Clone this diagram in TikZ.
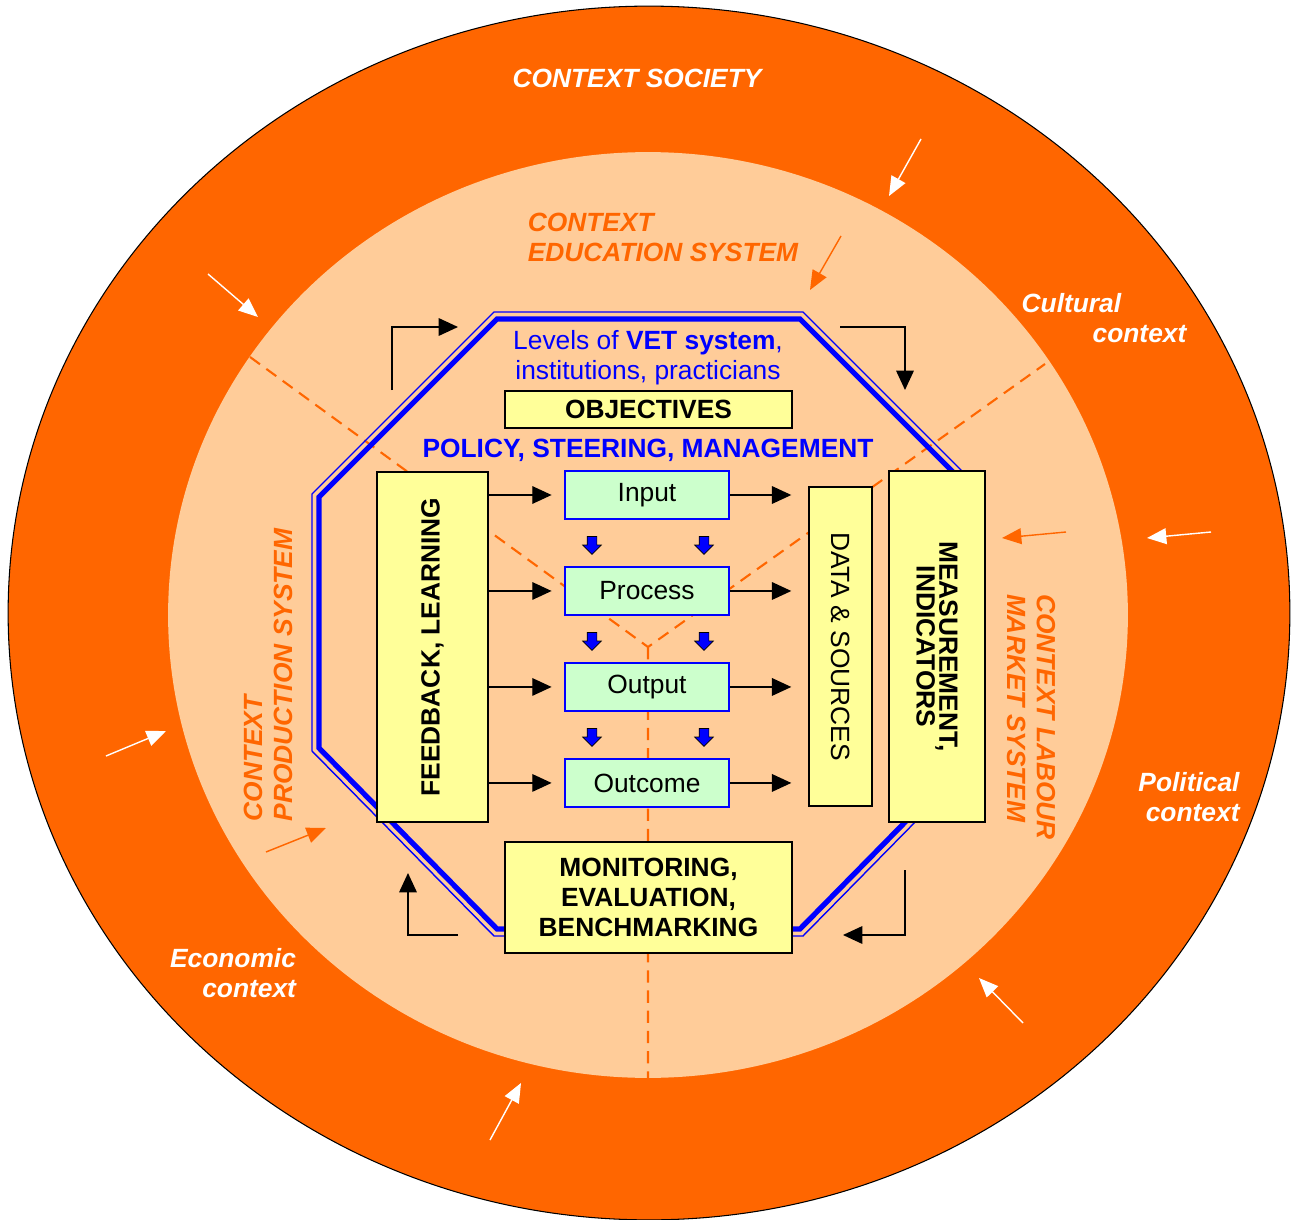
\documentclass[tikz,border=0pt]{standalone}
\usepackage{fontspec}
\setmainfont{Liberation Sans}
\usetikzlibrary{positioning, arrows.meta, shapes.arrows}

\definecolor{ringorange}{HTML}{FF6600}
\definecolor{peach}{HTML}{FFCC99}
\definecolor{paleyellow}{HTML}{FFFF99}
\definecolor{palegreen}{HTML}{CCFFCC}

\tikzset{
  ybox/.style={draw=black, fill=paleyellow, line width=0.8pt, inner sep=0pt},
  gbox/.style={draw=blue, fill=palegreen, line width=1.6pt, minimum width=3.28cm, minimum height=0.96cm, inner sep=0pt},
  dnarrow/.style={single arrow, draw=black, fill=blue, line width=0.4pt, rotate=-90,
    minimum height=0.36cm, inner sep=0.09cm, single arrow head extend=0.09cm},
  flow/.style={line width=0.8pt, -{Triangle[length=11pt,width=10pt]}},
  whitearr/.style={white, line width=0.8pt, -{Triangle[length=11pt,width=9pt]}},
  orangearr/.style={ringorange, line width=0.8pt, -{Triangle[length=11pt,width=9pt]}},
  sector/.style={ringorange, line width=1.2pt, dash pattern=on 7pt off 4.5pt},
  ctx/.style={ringorange, font=\fontsize{15}{17}\selectfont\bfseries\itshape},
  wctx/.style={white, font=\fontsize{15}{17}\selectfont\bfseries\itshape}
}

\begin{document}
\begin{tikzpicture}[x=0.02cm, y=-0.02cm, font=\fontsize{15}{17}\selectfont]
  \useasboundingbox (0,0) rectangle (1296,1220);

  % rings
  \fill[ringorange, draw=black, line width=0.6pt] (649,613) ellipse [x radius=12.82cm, y radius=12.14cm];
  \fill[peach] (648,615) ellipse [x radius=9.6cm, y radius=9.26cm];

  % sectors
  \coordinate (hub) at (648,647);
  \coordinate (s_left) at (250,357);
  \coordinate (s_right) at (1045,364);
  \coordinate (s_down) at (648,1078);
  \draw[sector] (s_left) -- (hub) -- (s_right) (hub) -- (s_down);

  % octagon
  \draw[blue, line width=0.8pt] (494,312) -- (803,312) -- (985,494) -- (985,751)
    -- (803,936) -- (494,936) -- (312,751) -- (312,494) -- cycle;
  \draw[blue, line width=3pt] (497,319) -- (800,319) -- (978,497) -- (978,748)
    -- (800,929) -- (497,929) -- (319,748) -- (319,497) -- cycle;

  % labels of the contexts
  \node[wctx] (lbl_soc) at (637,78) {CONTEXT SOCIETY};
  \node[ctx, align=left] (lbl_edu) at (663,237) {CONTEXT\\EDUCATION SYSTEM};
  \node[wctx, align=left] (lbl_cult) at (1104,318) {Cultural\\\hspace*{1.42cm}context};
  \node[wctx, align=right] (lbl_pol) at (1189,797) {Political\\context};
  \node[wctx, align=right] (lbl_eco) at (233,973) {Economic\\context};
  \node[ctx, align=left, rotate=90] (lbl_prod) at (268,675) {CONTEXT\\PRODUCTION SYSTEM};
  \node[ctx, align=left, rotate=-90] (lbl_lab) at (1031,717) {CONTEXT LABOUR\\MARKET SYSTEM};

  \node[blue, align=center] (lbl_vet) at (648,358) {Levels of \textbf{VET system},\\institutions, practicians};
  \node[blue, font=\fontsize{15}{17}\selectfont\bfseries] (lbl_pol_st) at (648,450) {POLICY, STEERING, MANAGEMENT};

  % boxes
  \node[ybox, minimum width=5.74cm, minimum height=0.74cm, font=\fontsize{15}{17}\selectfont\bfseries] (obj) at (648.5,409.5) {OBJECTIVES};
  \node[ybox, minimum width=5.74cm, minimum height=2.22cm, align=center, font=\fontsize{15}{17}\selectfont\bfseries] (mon) at (648.5,897.5) {MONITORING,\\EVALUATION,\\BENCHMARKING};
  \node[ybox, rotate=90, minimum width=7cm, minimum height=2.22cm, font=\fontsize{15}{17}\selectfont\bfseries] (fb) at (432.5,647) {FEEDBACK, LEARNING};
  \node[ybox, rotate=-90, minimum width=6.38cm, minimum height=1.26cm] (ds) at (840.5,646.5) {DATA \& SOURCES};
  \node[ybox, rotate=-90, minimum width=7.02cm, minimum height=1.92cm, align=center, font=\fontsize{15}{13}\selectfont\bfseries] (mi) at (937,646.5) {MEASUREMENT,\\INDICATORS};

  \node[gbox] (g_in) at (647,495) {Input};
  \node[gbox, below=1.92cm of g_in.center, anchor=center] (g_proc) {Process};
  \node[gbox, below=1.92cm of g_proc.center, anchor=center] (g_out) {Output};
  \node[gbox, below=1.92cm of g_out.center, anchor=center] (g_oc) {Outcome};

  % small block arrows
  \foreach \x in {592,704}
    \foreach \y in {543,639,735}
      \node[dnarrow] (dn_\x_\y) at (\x,\y) {};

  % flows
  \foreach \b in {in,proc,out,oc} {
    \draw[flow, shorten >=0.24cm] (fb.south |- g_\b.west) -- (g_\b.west);
    \draw[flow, shorten >=0.34cm] (g_\b.east) -- (g_\b.east -| ds.south);
  }

  % cycle arrows round the octagon
  \coordinate (tl_a) at (392,390);
  \coordinate (tl_b) at (458,327);
  \coordinate (tr_a) at (840,327);
  \coordinate (tr_b) at (905,390);
  \coordinate (br_a) at (905,870);
  \coordinate (br_b) at (843,935);
  \coordinate (bl_a) at (458,935);
  \coordinate (bl_b) at (408,873);
  \draw[flow] (tl_a) |- (tl_b);
  \draw[flow] (tr_a) -| (tr_b);
  \draw[flow] (br_a) |- (br_b);
  \draw[flow] (bl_a) -| (bl_b);

  % influences from outside
  \coordinate (w1_a) at (921,139);   \coordinate (w1_b) at (889,196);
  \coordinate (w2_a) at (1211,532);  \coordinate (w2_b) at (1147,538);
  \coordinate (w3_a) at (1023,1023); \coordinate (w3_b) at (979,978);
  \coordinate (w4_a) at (490,1140);  \coordinate (w4_b) at (521,1083);
  \coordinate (w5_a) at (106,756);   \coordinate (w5_b) at (166,731);
  \coordinate (w6_a) at (208,274);   \coordinate (w6_b) at (258,317);
  \foreach \i in {1,...,6}
    \draw[whitearr] (w\i_a) -- (w\i_b);

  \coordinate (o1_a) at (841,236);   \coordinate (o1_b) at (810,290);
  \coordinate (o2_a) at (1066,532);  \coordinate (o2_b) at (1002,538);
  \coordinate (o3_a) at (266,852);   \coordinate (o3_b) at (326,828);
  \foreach \i in {1,2,3}
    \draw[orangearr] (o\i_a) -- (o\i_b);
\end{tikzpicture}
\end{document}
